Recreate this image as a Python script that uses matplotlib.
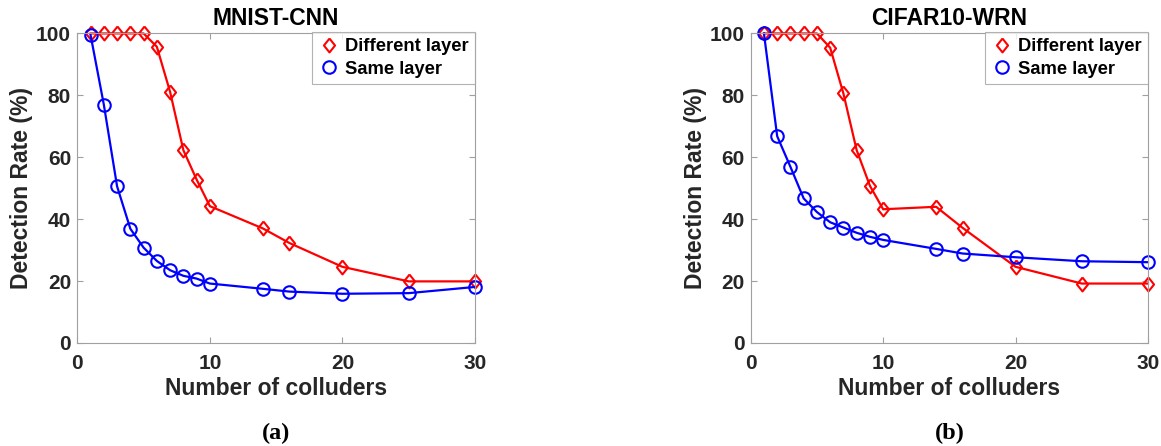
import matplotlib
matplotlib.use("Agg")
import matplotlib.pyplot as plt
from matplotlib.lines import Line2D

# colluder counts shared by both experiments
colluders = [1, 2, 3, 4, 5, 6, 7, 8, 9, 10, 14, 16, 20, 25, 30]

# MNIST-CNN detection rates (%)
mnist_diff = [100, 100, 100, 100, 100, 95.7, 81.1, 62.3, 52.8, 44.2, 37.0, 32.3, 24.6, 19.9, 19.9]
mnist_same = [99.5, 77.0, 50.6, 36.9, 30.8, 26.5, 23.5, 21.7, 20.8, 19.2, 17.5, 16.6, 15.9, 16.1, 18.1]

# CIFAR10-WRN detection rates (%)
cifar_diff = [100, 100, 100, 100, 100, 95.4, 80.6, 62.3, 50.8, 43.2, 44.0, 37.2, 24.6, 19.2, 19.2]
cifar_same = [100, 66.8, 56.9, 46.7, 42.3, 39.0, 37.3, 35.6, 34.3, 33.3, 30.4, 28.9, 27.7, 26.4, 26.1]

titles = ["MNIST-CNN", "CIFAR10-WRN"]
captions = ["(a)", "(b)"]
yticks = [0, 20, 40, 60, 80, 100]
xticks = [0, 10, 20, 30]

plt.rcParams["font.family"] = ["Liberation Sans", "DejaVu Sans"]
plt.rcParams["font.weight"] = "bold"
txt = "#262626"
edge = "#a0a0a0"

# slightly narrow diamond, like MATLAB's
diamond = [(0, 1), (0.8, 0), (0, -1), (-0.8, 0), (0, 1)]
red_style = dict(color="#ff0000", marker=diamond, ms=10, mfc="none", mec="#ff0000", mew=1.5)
blue_style = dict(color="#0000ff", marker="o", ms=9, mfc="none", mec="#0000ff", mew=1.5)

fig = plt.figure(figsize=(11.61, 4.46), dpi=100)
positions = [[0.0666, 0.231, 0.3425, 0.694], [0.6466, 0.231, 0.3422, 0.694]]
data = [(mnist_diff, mnist_same), (cifar_diff, cifar_same)]

for pos, (diff, same), title, cap in zip(positions, data, titles, captions):
    ax = fig.add_axes(pos)
    ax.plot(colluders, diff, lw=1.6, clip_on=False, **red_style)
    ax.plot(colluders, same, lw=1.6, clip_on=False, **blue_style)
    ax.set_xlim(0, 30)
    ax.set_ylim(0, 100)
    ax.set_xticks(xticks)
    ax.set_yticks(yticks)
    ax.tick_params(direction="in", length=4, width=0.8, color=edge, labelcolor=txt,
                   labelsize=15, top=True, right=True)
    ax.tick_params(axis="x", pad=8)
    ax.tick_params(axis="y", pad=4.5)
    for s in ax.spines.values():
        s.set_color(edge)
        s.set_linewidth(0.8)
    ax.set_title(title, fontsize=16.5, fontweight="bold", color="black", pad=6)
    ax.set_xlabel("Number of colluders", fontsize=16.5, fontweight="bold", color=txt, labelpad=3)
    ax.set_ylabel("Detection Rate (%)", fontsize=16.5, fontweight="bold", color=txt, labelpad=2)

    # legend shows markers only
    handles = [Line2D([], [], ls="none", **red_style), Line2D([], [], ls="none", **blue_style)]
    leg = ax.legend(handles, ["Different layer", "Same layer"], loc="upper right",
                    bbox_to_anchor=(1.0, 1.005), fontsize=13.2, frameon=True, fancybox=False,
                    borderaxespad=0, handlelength=1.15, handletextpad=0.3, borderpad=0.35,
                    labelspacing=0.3)
    leg.get_frame().set_edgecolor(edge)
    leg.get_frame().set_linewidth(0.8)
    for t in leg.get_texts():
        t.set_color("black")
    ax.text(0.5, -0.2925, cap, transform=ax.transAxes, ha="center", va="center",
            fontsize=17.5, fontweight="bold", family="Liberation Serif", color="black")

fig.savefig("out.png", dpi=100)
